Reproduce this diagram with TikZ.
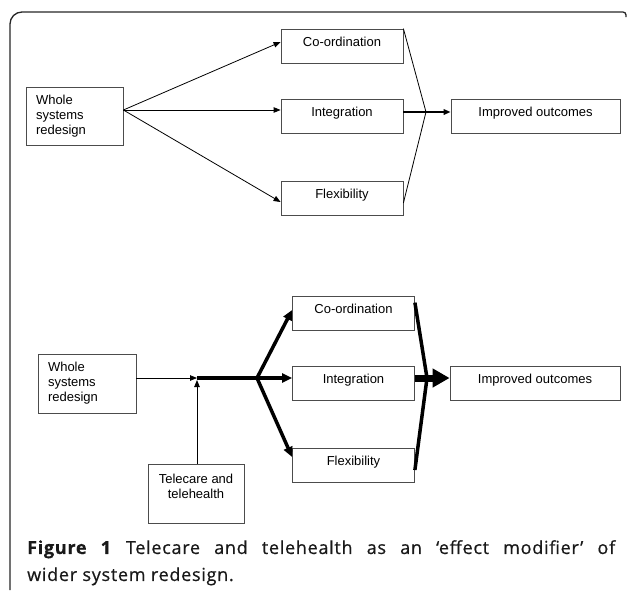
\documentclass[tikz,border=0pt]{standalone}
\usepackage{fontspec}
\setmainfont{Liberation Sans}
\newfontfamily\capfont[LetterSpace=4, FakeBold=0.6]{Open Sans}
\usetikzlibrary{calc, positioning, arrows.meta}

\begin{document}
\begin{tikzpicture}[x=1pt,y=-1pt,>={Triangle[length=7pt,width=5.5pt]},
	box/.style={draw=black!70, line width=0.8pt, inner sep=0pt, font=\fontsize{13}{15}\selectfont},
	t/.style={box, minimum width=122pt, minimum height=34pt, text height=9pt, text depth=9pt},
	heavy/.style={line width=3.5pt, -{Triangle[length=10pt,width=9pt]}}]
				\useasboundingbox (0,0) rectangle (627,590);
				\draw[line width=1.3pt, black!85] (10,590) [rounded corners=12pt] -- (10,12) [rounded corners=3pt] -- (626,12) -- (626,17);

				\node[box, minimum width=97pt, minimum height=58pt, text width=77pt, align=left] (w1) at (74.5,116) {Whole\\systems\\redesign};
				\node[t] (co1) at (342,46) {Co-ordination};
				\node[t] (in1) at (342,116) {Integration};
				\node[t] (fl1) at (342,198) {Flexibility};
				\node[t, minimum width=169pt] (out1) at (535.5,116) {Improved outcomes};
				\coordinate (s1) at ([yshift=6pt]w1.east);
				\coordinate (m1) at (426,112);
				\draw[->, line width=0.8pt] (s1) -- ([yshift=4pt]co1.west);
				\draw[->, line width=0.8pt] (s1) -- (s1 -| in1.west);
				\draw[->, line width=0.8pt] (s1) -- ([yshift=-4pt]fl1.west);
				\draw[line width=0.8pt] (co1.north east) -- (m1) -- ([yshift=-5pt]fl1.east);
				\draw[->, line width=2pt] (in1.east |- m1) -- (out1.west |- m1);

				\node[box, minimum width=98pt, minimum height=59pt, text width=78pt, align=left] (w2) at (87,383.5) {Whole\\systems\\redesign};
				\node[box, minimum width=96pt, minimum height=59pt, align=center] (tc) at (196,493.5) {Telecare and\\telehealth\\\mbox{}};
				\node[t] (co2) at (353.5,313.5) {Co-ordination};
				\node[t] (in2) at (353.5,383.5) {Integration};
				\node[t] (fl2) at (353.5,465) {Flexibility};
				\node[t, minimum width=170pt] (out2) at (535,383.5) {Improved outcomes};
				\coordinate (j2) at (197,378);
				\coordinate (f2) at (257,378);
				\coordinate (m2) at (427,378);
				\draw[->, line width=0.8pt] (w2.east |- j2) -- (j2);
				\draw[->, line width=0.8pt] (tc.north -| j2) -- ([yshift=-2pt]j2);
				\draw[line width=3.5pt] (j2) -- (f2);
				\draw[heavy] (f2) -- ([yshift=3.5pt]co2.west);
				\draw[heavy] (f2) -- (in2.west |- f2);
				\draw[heavy] (f2) -- ([yshift=8pt]fl2.west);
				\draw[line width=3.5pt] ([yshift=-6.5pt]co2.north east) -- (m2) -- ([yshift=-5pt]fl2.east);
				\draw[line width=7pt, -{Triangle[length=17pt,width=18pt]}] (in2.east |- m2) -- (out2.west |- m2);

				\node[anchor=north west, text width=588pt, align=justify, inner sep=0pt, text=black!90, font=\capfont\fontsize{18}{27}\selectfont] (cap) at (27,540) {\textbf{Figure 1} Telecare and telehealth as an ‘effect modifier’ of\linebreak wider system redesign.};
			\end{tikzpicture}
\end{document}
